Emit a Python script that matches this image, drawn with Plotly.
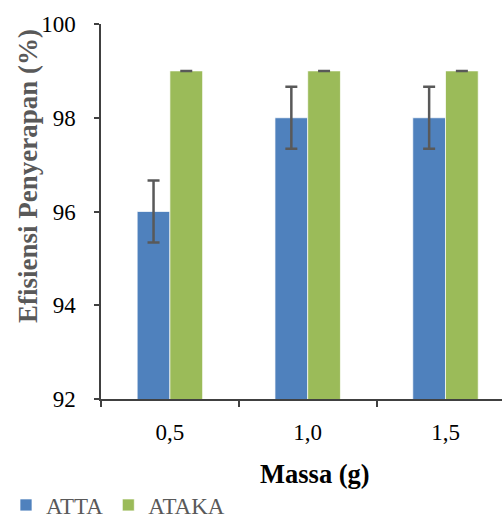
import plotly.graph_objects as go

# Adsorbent mass (g) and adsorption efficiency (%) per adsorbent
massa = ["0,5", "1,0", "1,5"]
atta = [96, 98, 98]
atta_err = [0.66, 0.66, 0.66]
ataka = [99, 99, 99]
ataka_err = [0, 0, 0]

BLUE = "#4F81BD"
GREEN = "#9BBB59"
ERR = "#595959"
SERIF = "Liberation Serif, Times New Roman, serif"

fig = go.Figure()
fig.add_trace(go.Bar(
    x=massa, y=atta, name="ATTA",
    marker=dict(color=BLUE, line=dict(color="rgba(255,255,255,0.7)", width=1)),
    error_y=dict(type="data", array=atta_err, visible=True,
                 color=ERR, thickness=2.5, width=6),
))
fig.add_trace(go.Bar(
    x=massa, y=ataka, name="ATAKA",
    marker=dict(color=GREEN, line=dict(color="rgba(255,255,255,0.7)", width=1)),
    error_y=dict(type="data", array=ataka_err, visible=True,
                 color=ERR, thickness=2.5, width=6),
))

W, H = 502, 520
L, R, T, B = 101, 0, 24, 121
pw = W - L - R
ph = H - T - B

fig.update_layout(
    width=W, height=H,
    margin=dict(l=L, r=R, t=T, b=B, pad=0, autoexpand=False),
    paper_bgcolor="white", plot_bgcolor="white",
    barmode="group", bargap=0.525, bargroupgap=0,
    font=dict(family=SERIF, size=23, color="black"),
    showlegend=True,
    legend=dict(orientation="h", x=(6 - L) / pw, y=-(505 - (T + ph)) / ph,
                xanchor="left", yanchor="middle",
                font=dict(family=SERIF, size=23, color="#595959"),
                itemwidth=30, tracegroupgap=0, bgcolor="rgba(0,0,0,0)"),
    annotations=[
        dict(text="<b>Efisiensi Penyerapan (%)</b>", textangle=-90,
             xref="paper", yref="paper",
             x=(28 - L) / pw, y=(T + ph - 176) / ph,
             xanchor="center", yanchor="middle", showarrow=False,
             font=dict(family=SERIF, size=27, color="#595959")),
        dict(text="<b>Massa (g)</b>",
             xref="paper", yref="paper",
             x=(315 - L) / pw, y=-(474 - (T + ph)) / ph,
             xanchor="center", yanchor="middle", showarrow=False,
             font=dict(family=SERIF, size=26.5, color="black")),
    ],
)

fig.update_xaxes(
    type="category", range=[-0.5, 2.41],
    showline=True, linecolor="#404040", linewidth=1.5,
    ticks="outside", tickson="boundaries", ticklen=6, tickwidth=1.5,
    tickcolor="#404040", showgrid=False, zeroline=False,
    tickfont=dict(family=SERIF, size=23, color="black"),
    ticklabelstandoff=12,
)
fig.update_yaxes(
    range=[92, 100], tickvals=[92, 94, 96, 98, 100],
    showline=True, linecolor="#404040", linewidth=1.5,
    ticks="outside", ticklen=5, tickwidth=1.5, tickcolor="#404040",
    showgrid=False, zeroline=False,
    tickfont=dict(family=SERIF, size=23, color="black"),
    ticklabelstandoff=14,
)

fig.write_html("out.html")
